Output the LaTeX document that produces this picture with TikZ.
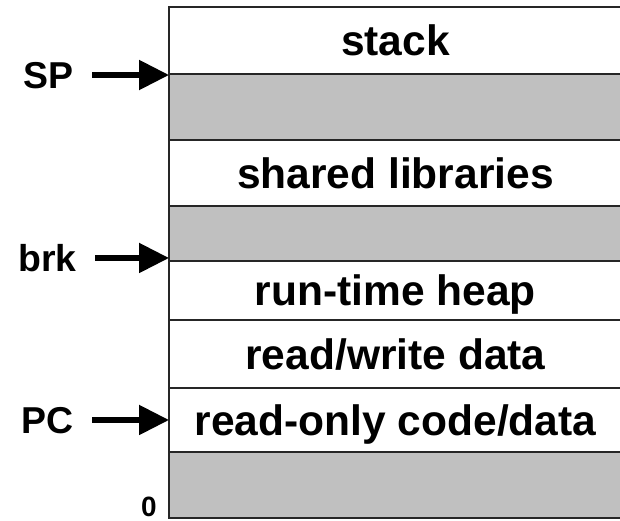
\documentclass[tikz,border=0pt]{standalone}
\usepackage{fontspec}
\setmainfont{Liberation Sans}
\usetikzlibrary{arrows.meta}

\definecolor{unused}{RGB}{192,192,192}

\tikzset{
  seg/.style={draw=black!85, line width=0.6pt, inner sep=0pt, outer sep=0pt,
    minimum width=9.06cm, anchor=north west,
    font=\fontsize{24.2}{28}\selectfont\bfseries, text height=17.3pt, text depth=0pt},
  free/.style={seg, fill=unused},
  reg/.style={font=\fontsize{21.3}{25}\selectfont\bfseries, inner sep=0pt,
    text height=15.25pt, text depth=0pt, anchor=east},
  ptr/.style={-{Triangle[length=0.6cm,width=0.58cm]}, line width=3pt, shorten <=0.36cm}
}

\begin{document}
\begin{tikzpicture}[x=0.02cm, y=-0.02cm]

\useasboundingbox (0,0) rectangle (620,521);

% the address space, top to bottom
\node[seg,  minimum height=1.34cm] (stack)  at (169,7)   {stack};
\node[free, minimum height=1.32cm] (gapA)   at (169,74)  {};
\node[seg,  minimum height=1.32cm] (shlib)  at (169,140) {shared libraries};
\node[free, minimum height=1.10cm] (gapB)   at (169,206) {};
\node[seg,  minimum height=1.18cm] (heap)   at (169,261) {run-time heap};
\node[seg,  minimum height=1.36cm] (rwdata) at (169,320) {read/write data};
\node[seg,  minimum height=1.28cm] (rodata) at (169,388) {read-only code/data};
\node[free, minimum height=1.32cm] (gapC)   at (169,452) {};

% the registers pointing into it
\node[reg] (sp)  at ([xshift=-1.90cm, yshift=-0.02cm]gapA.north west) {SP};
\node[reg] (brk) at ([xshift=-1.84cm, yshift=0.06cm]gapB.south west) {brk};
\node[reg] (pc)  at ([xshift=-1.90cm]rodata.west) {PC};

\draw[ptr] (sp.east)  -- (gapA.north west |- sp.east);
\draw[ptr] (brk.east) -- (gapB.south west |- brk.east);
\draw[ptr] (pc.east)  -- (rodata.west);

% lowest address
\node[font=\fontsize{15.9}{18}\selectfont\bfseries, inner sep=0pt, anchor=south east]
  (zero) at ([xshift=-0.24cm, yshift=0.02cm]gapC.south west) {0};

\end{tikzpicture}
\end{document}
